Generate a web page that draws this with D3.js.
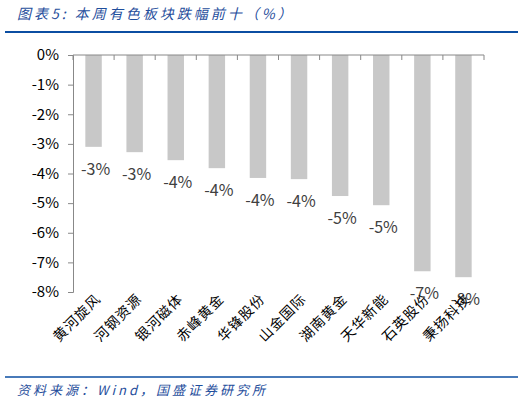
<!DOCTYPE html>
<html><head><meta charset="utf-8">
<script src="https://cdn.jsdelivr.net/npm/d3@7"></script>
<style>body{margin:0;background:#fff}text{font-family:"Noto Sans CJK SC",sans-serif}</style>
</head><body>
<svg id="c" width="525" height="402"></svg>
<script>
const names = ["黄河旋风","河钢资源","银河磁体","赤峰黄金","华锋股份","山金国际","湖南黄金","天华新能","石英股份","秉扬科技"];
const values = [-3.1,-3.28,-3.55,-3.82,-4.15,-4.19,-4.76,-5.07,-7.3,-7.5];
const yTicks = [0,-1,-2,-3,-4,-5,-6,-7,-8];

const svg = d3.select("#c");
const blue = "#1f4e9c";
svg.append("text").attr("x",17).attr("y",19).attr("fill",blue).attr("font-size",14)
  .attr("font-style","italic").attr("letter-spacing",3).text("图表5:  本周有色板块跌幅前十（%）");
svg.append("line").attr("x1",5).attr("x2",518).attr("y1",32).attr("y2",32).attr("stroke","#0b4ea2").attr("stroke-width",2);
svg.append("line").attr("x1",5).attr("x2",518).attr("y1",377).attr("y2",377).attr("stroke","#0b4ea2").attr("stroke-width",1.5);
svg.append("text").attr("x",17).attr("y",395).attr("fill",blue).attr("font-size",13)
  .attr("font-style","italic").attr("letter-spacing",3).text("资料来源：Wind，国盛证券研究所");

const x = d3.scaleBand().domain(names).range([73,484]).paddingInner(0.6).paddingOuter(0.3);
const y = d3.scaleLinear().domain([0,-8]).range([55,292]);

svg.selectAll("rect.bar").data(values).enter().append("rect")
  .attr("x",(d,i)=>x(names[i])).attr("width",x.bandwidth())
  .attr("y",y(0)).attr("height",d=>y(d)-y(0)).attr("fill","#c8c8c8");

svg.selectAll("text.v").data(values).enter().append("text")
  .attr("x",(d,i)=>x(names[i])+x.bandwidth()/2+2).attr("y",d=>y(d)+28)
  .attr("text-anchor","middle").attr("font-size",16).attr("fill","#404040")
  .attr("font-family","Arial, Liberation Sans").text(d=>d.toFixed(0)+"%");

// y axis
const ya = svg.append("g").attr("transform","translate(73,0)")
  .call(d3.axisLeft(y).tickValues(yTicks).tickFormat(d=>d+"%").tickSize(5));
ya.select(".domain").attr("stroke","#888");
ya.selectAll(".tick line").attr("stroke","#888");
ya.selectAll("text").attr("font-size",15).attr("fill","#000").attr("font-family","Arial, Liberation Sans").attr("x",-14);

// top axis at 0 with category ticks
svg.append("line").attr("x1",73).attr("x2",484).attr("y1",y(0)).attr("y2",y(0)).attr("stroke","#888");
const b0 = 73, bw = (484-73)/names.length;
svg.selectAll("line.t").data(d3.range(names.length+1)).enter().append("line")
  .attr("x1",i=>b0+i*bw).attr("x2",i=>b0+i*bw).attr("y1",y(0)).attr("y2",y(0)+5).attr("stroke","#888");

// category labels rotated
svg.selectAll("text.n").data(names).enter().append("text")
  .attr("transform",d=>`translate(${x(d)+x.bandwidth()/2+8},${300}) rotate(-45)`)
  .attr("text-anchor","end").attr("font-size",14).attr("letter-spacing",1).attr("fill","#000").text(d=>d);
</script>
</body></html>
